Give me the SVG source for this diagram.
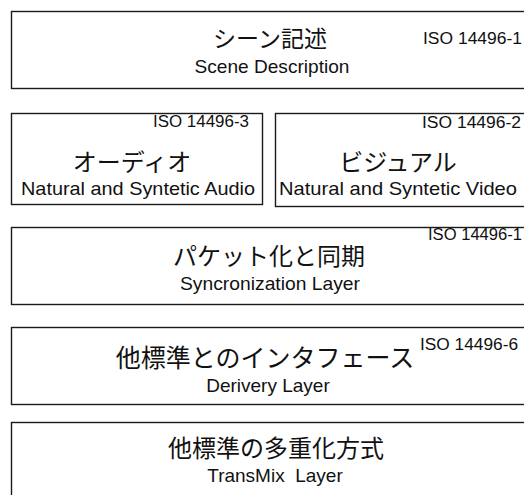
<svg xmlns="http://www.w3.org/2000/svg" width="524" height="495" viewBox="0 0 524 495">
<style>
.box{fill:#fff;stroke:#1a1a1a;stroke-width:1.4}
.jp{font-family:"Noto Sans CJK JP","Liberation Sans",sans-serif;font-size:24px;fill:#111;text-anchor:middle}
.en{font-family:"Liberation Sans","Noto Sans",sans-serif;font-size:19px;fill:#111}
.iso{font-family:"Liberation Sans","Noto Sans",sans-serif;font-size:16px;fill:#111}
.c{text-anchor:middle}
</style>
<rect width="524" height="495" fill="#fff"/>
<g id="scene">
<rect class="box" x="11.5" y="11.5" width="530" height="77"/>
<text class="jp" x="270" y="47" style="font-size:23px">シーン記述</text>
<text class="en c" x="272" y="73" textLength="155" lengthAdjust="spacingAndGlyphs">Scene Description</text>
<text class="iso" x="423" y="44" textLength="99" lengthAdjust="spacingAndGlyphs">ISO 14496-1</text>
</g>
<g id="audio">
<rect class="box" x="11.5" y="113.5" width="251" height="91"/>
<text class="iso" x="153" y="127" textLength="96" lengthAdjust="spacingAndGlyphs">ISO 14496-3</text>
<text class="jp" x="132" y="171">オーディオ</text>
<text class="en" x="21" y="195" textLength="234" lengthAdjust="spacingAndGlyphs">Natural and Syntetic Audio</text>
</g>
<g id="video">
<rect class="box" x="275.5" y="113.5" width="260" height="93"/>
<text class="iso" x="422" y="128" textLength="99" lengthAdjust="spacingAndGlyphs">ISO 14496-2</text>
<text class="jp" x="398" y="171">ビジュアル</text>
<text class="en" x="279" y="195" textLength="238" lengthAdjust="spacingAndGlyphs">Natural and Syntetic Video</text>
</g>
<g id="sync">
<rect class="box" x="11.5" y="227.5" width="530" height="77"/>
<text class="jp" x="269" y="265">パケット化と同期</text>
<text class="en c" x="270" y="290" textLength="180" lengthAdjust="spacingAndGlyphs">Syncronization Layer</text>
<text class="iso" x="428" y="240" textLength="94" lengthAdjust="spacingAndGlyphs">ISO 14496-1</text>
</g>
<g id="delivery">
<rect class="box" x="11.5" y="327.5" width="530" height="77"/>
<text class="jp" x="265" y="367" style="font-size:25px">他標準とのインタフェース</text>
<text class="en c" x="268" y="392">Derivery Layer</text>
<text class="iso" x="420" y="350" textLength="98" lengthAdjust="spacingAndGlyphs">ISO 14496-6</text>
</g>
<g id="transmix">
<rect class="box" x="11.5" y="422.5" width="530" height="90"/>
<text class="jp" x="276" y="457">他標準の多重化方式</text>
<text class="en c" x="275" y="482" xml:space="preserve">TransMix  Layer</text>
</g>
<g id="connectors"/>
</svg>
